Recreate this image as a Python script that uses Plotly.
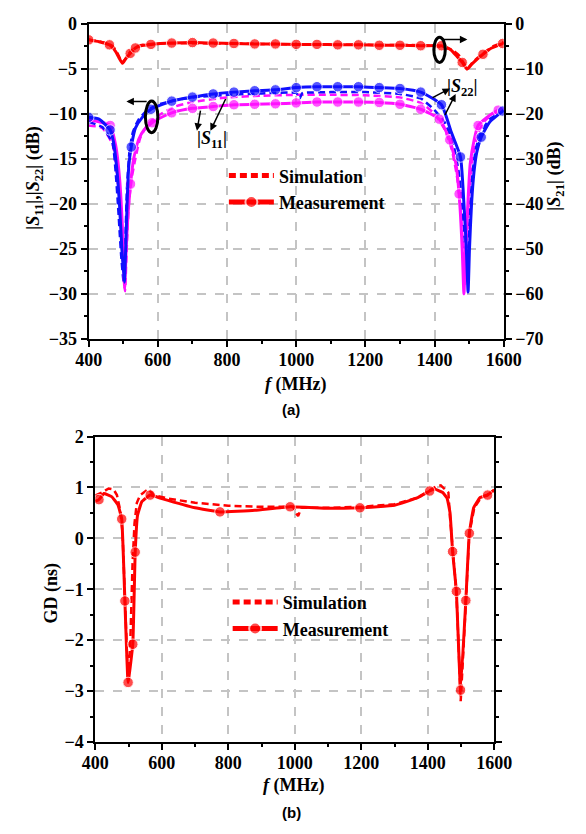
import plotly.graph_objects as go

# ---------------- (a) S-parameters ----------------
# |S21| measured (right axis, dB)
s21_f = [400, 430, 460, 478, 490, 498, 507, 520, 535, 550, 580, 640, 700, 760, 820, 880, 940, 1000, 1060,
         1120, 1180, 1240, 1300, 1360, 1420, 1445, 1465, 1480, 1494, 1510, 1540, 1565, 1597, 1600]
s21_meas = [-3.6, -4.0, -4.7, -6.2, -7.9, -8.8, -7.8, -6.6, -5.4, -4.9, -4.6, -4.3, -4.2, -4.3, -4.4, -4.5, -4.5,
            -4.6, -4.6, -4.7, -4.7, -4.8, -4.8, -4.9, -4.9, -5.7, -7.3, -8.6, -10.1, -8.8, -6.8, -5.4, -4.4, -4.2]
s21_mk = [1, 0, 1, 0, 0, 0, 0, 1, 1, 0, 1, 1, 1, 1, 1, 1, 1, 1, 1, 1, 1, 1, 1, 1, 1, 0, 0, 1, 0, 0, 1, 0, 1, 0]
# |S21| simulated
s21_sim_f = [400, 440, 470, 485, 497, 510, 525, 550, 600, 800, 1000, 1200, 1400, 1450, 1470, 1485, 1495, 1510,
             1540, 1570, 1600]
s21_sim = [-3.5, -4.1, -5.0, -6.8, -8.6, -7.4, -5.8, -4.8, -4.4, -4.4, -4.6, -4.7, -4.9, -5.8, -7.0, -8.8, -10.0,
           -8.6, -6.6, -5.0, -4.1]

# |S22| measured (blue)
s22_f = [400, 430, 462, 472, 481, 489, 496, 503, 507, 511, 516, 523, 535, 555, 580, 640, 700, 760, 820, 880, 940,
         1000, 1060, 1120, 1180, 1240, 1300, 1360, 1420, 1448, 1475, 1485, 1492, 1497, 1501, 1507, 1514, 1522,
         1535, 1560, 1597, 1600]
s22_meas = [-10.4, -10.6, -11.8, -13.2, -16.0, -20.0, -25.0, -28.7, -25.0, -20.0, -15.8, -13.7, -11.6, -10.4,
            -9.5, -8.6, -8.15, -7.8, -7.6, -7.45, -7.35, -7.1, -7.0, -7.0, -7.0, -7.1, -7.2, -7.6, -9.0, -12.0,
            -14.8, -20.0, -25.0, -29.8, -25.0, -20.0, -16.5, -14.3, -12.6, -10.9, -9.7, -9.6]
s22_mk = [1, 0, 1, 0, 0, 0, 0, 0, 0, 0, 0, 1, 0, 0, 1, 1, 1, 1, 1, 1, 1, 1, 1, 1, 1, 1, 1, 1, 1, 0, 1, 0, 0, 0,
          0, 0, 0, 0, 1, 0, 1, 0]
# |S22| simulated
s22_sim_f = [400, 440, 469, 478, 485, 494, 501, 506, 511, 518, 528, 545, 570, 600, 650, 700, 800, 900, 1000,
             1010, 1018, 1030, 1100, 1200, 1300, 1360, 1400, 1430, 1455, 1470, 1480, 1487, 1493, 1498, 1503, 1510,
             1520, 1535, 1560, 1600]
s22_sim = [-10.9, -11.5, -13.3, -16.5, -20.3, -25.8, -28.6, -24.0, -18.0, -14.2, -12.0, -10.6, -9.6, -9.0, -8.5,
           -8.2, -7.9, -7.75, -7.7, -8.3, -7.7, -7.65, -7.6, -7.6, -7.8, -8.3, -9.6, -11.0, -13.5, -16.5, -20.0,
           -24.0, -28.5, -25.0, -20.5, -16.5, -13.8, -12.0, -10.6, -9.7]

# |S11| measured (magenta)
s11_f = [400, 430, 462, 478, 490, 498, 504, 509, 514, 521, 530, 545, 560, 583, 605, 640, 700, 760, 820, 880,
         940, 1000, 1060, 1120, 1180, 1240, 1300, 1360, 1414, 1444, 1462, 1471, 1480, 1485, 1490, 1497, 1503,
         1515, 1526, 1545, 1566, 1584, 1600]
s11_meas = [-10.7, -10.9, -11.3, -13.5, -17.5, -23.0, -29.3, -24.4, -21.0, -17.8, -15.0, -12.8, -11.8, -11.0,
            -10.5, -9.9, -9.4, -9.2, -9.0, -8.95, -8.9, -8.8, -8.7, -8.7, -8.7, -8.75, -8.95, -9.5, -10.6, -12.9,
            -15.6, -18.9, -25.0, -30.0, -24.7, -19.5, -15.6, -12.8, -11.3, -10.6, -10.0, -9.6, -9.4]
s11_mk = [0, 0, 1, 0, 0, 0, 0, 0, 0, 1, 0, 0, 0, 1, 0, 1, 1, 1, 1, 1, 1, 1, 1, 1, 1, 1, 1, 1, 1, 1, 0, 1, 0, 0,
          0, 0, 0, 0, 1, 0, 0, 1, 0]
# |S11| simulated
s11_sim_f = [400, 440, 470, 485, 495, 500, 505, 510, 516, 525, 535, 548, 565, 585, 610, 650, 700, 800, 900, 1000,
             1100, 1200, 1300, 1360, 1400, 1430, 1450, 1465, 1475, 1483, 1488, 1493, 1500, 1510, 1525, 1545,
             1570, 1600]
s11_sim = [-11.3, -11.6, -13.5, -18.0, -24.0, -27.5, -29.7, -25.0, -20.0, -17.0, -15.0, -12.8, -11.5, -10.7,
           -10.0, -9.2, -8.7, -8.2, -8.0, -7.9, -7.9, -7.95, -8.2, -8.8, -10.0, -11.8, -14.0, -17.0, -20.5, -25.0,
           -29.0, -25.0, -19.0, -15.0, -12.2, -10.8, -10.0, -9.5]

# ---------------- (b) group delay ----------------
gd_f = [400, 411, 426, 449, 468, 479.5, 489, 498.6, 512.8, 520, 527, 540, 565, 600, 700, 775, 880, 986, 1100,
        1196, 1300, 1370, 1405.7, 1420, 1445, 1458, 1467, 1474.7, 1486, 1498.6, 1514.5, 1525, 1538, 1557, 1580,
        1600]
gd_meas = [0.73, 0.76, 0.88, 0.82, 0.66, 0.38, -1.23, -2.83, -2.08, -0.27, 0.45, 0.72, 0.85, 0.78, 0.6, 0.52,
           0.55, 0.62, 0.59, 0.6, 0.65, 0.8, 0.93, 0.97, 0.9, 0.79, 0.5, -0.26, -1.04, -2.98, -1.22, 0.1, 0.6,
           0.8, 0.85, 0.95]
gd_mk = [0, 1, 0, 0, 0, 1, 1, 1, 1, 1, 0, 0, 1, 0, 0, 1, 0, 1, 0, 1, 0, 0, 1, 0, 0, 0, 0, 1, 1, 1, 1, 1, 0, 0,
         1, 0]
gd_sim_f = [400, 420, 440, 455, 465, 475, 482, 490, 498, 505, 512, 518, 525, 535, 548, 560, 575, 620, 700, 800,
            900, 995, 1003, 1010, 1020, 1100, 1200, 1300, 1370, 1410, 1425, 1439, 1450, 1462, 1467, 1475, 1486,
            1492, 1499, 1508, 1515, 1525, 1540, 1560, 1580, 1600]
gd_sim = [0.84, 0.9, 0.98, 0.96, 0.85, 0.55, 0.1, -1.2, -2.75, -2.1, -0.5, 0.3, 0.7, 0.85, 0.92, 0.97, 0.85,
          0.78, 0.7, 0.64, 0.62, 0.62, 0.5, 0.44, 0.6, 0.6, 0.62, 0.67, 0.8, 0.97, 1.02, 1.04, 0.98, 0.9, 0.4,
          -0.25, -1.05, -2.0, -3.2, -2.1, -1.2, 0.1, 0.6, 0.8, 0.86, 0.95]

RED, BLUE, MAG = "#ff0000", "#1010ff", "#ff10ff"
SERIF = "Liberation Serif"
DASH = "7px,4px"
MS = 10.5


def msizes(flags):
    return [MS if k else 0 for k in flags]


fig = go.Figure()

# top: S11 / S22 (left axis)
fig.add_trace(go.Scatter(x=s11_sim_f, y=s11_sim, mode="lines", line=dict(color=MAG, width=2.5, dash=DASH,
                                                                          shape="spline", smoothing=0.5),
                         showlegend=False, xaxis="x", yaxis="y"))
fig.add_trace(go.Scatter(x=s22_sim_f, y=s22_sim, mode="lines", line=dict(color=BLUE, width=2.5, dash=DASH,
                                                                          shape="spline", smoothing=0.5),
                         showlegend=False, xaxis="x", yaxis="y"))
fig.add_trace(go.Scatter(x=s11_f, y=s11_meas, mode="lines+markers",
                         line=dict(color=MAG, width=3, shape="spline", smoothing=0.5),
                         marker=dict(color=MAG, size=msizes(s11_mk)), showlegend=False, xaxis="x", yaxis="y"))
fig.add_trace(go.Scatter(x=s22_f, y=s22_meas, mode="lines+markers",
                         line=dict(color=BLUE, width=3, shape="spline", smoothing=0.5),
                         marker=dict(color=BLUE, size=msizes(s22_mk)), showlegend=False, xaxis="x", yaxis="y"))
# S21 (right axis)
fig.add_trace(go.Scatter(x=s21_sim_f, y=s21_sim, mode="lines", name="Simulation",
                         line=dict(color=RED, width=2.5, dash=DASH, shape="spline", smoothing=0.5),
                         legend="legend", xaxis="x", yaxis="y2"))
fig.add_trace(go.Scatter(x=s21_f, y=s21_meas, mode="lines+markers", name="Measurement",
                         line=dict(color=RED, width=3, shape="spline", smoothing=0.5),
                         marker=dict(color=RED, size=msizes(s21_mk)), legend="legend", xaxis="x", yaxis="y2"))

# bottom: GD
fig.add_trace(go.Scatter(x=gd_sim_f, y=gd_sim, mode="lines", name="Simulation",
                         line=dict(color=RED, width=2.5, dash=DASH), legend="legend2", xaxis="x2", yaxis="y3"))
fig.add_trace(go.Scatter(x=gd_f, y=gd_meas, mode="lines+markers", name="Measurement",
                         line=dict(color=RED, width=3, shape="spline", smoothing=0.3),
                         marker=dict(color=RED, size=msizes(gd_mk)), legend="legend2", xaxis="x2", yaxis="y3"))

tickfont = dict(family=SERIF, size=18, color="black", weight="bold")
common = dict(showline=True, linecolor="black", linewidth=2, ticks="outside", ticklen=6, tickwidth=2,
              tickcolor="black", tickfont=tickfont, zeroline=False, showgrid=True, gridcolor="#c4c4c4",
              gridwidth=1.5, griddash="dash")
minor_t = dict(ticklen=3, tickwidth=2, tickcolor="black", ticks="outside")

TOP_X = [79 / 586, 518 / 586]
TOP_Y = [(834 - 337) / 834, (834 - 14) / 834]
BOT_X = [86 / 586, 508 / 586]
BOT_Y = [(834 - 750) / 834, (834 - 437) / 834]

legfont = dict(family=SERIF, size=18, color="black", weight="bold")
fig.update_layout(
    width=586, height=834, margin=dict(l=0, r=0, t=0, b=0),
    paper_bgcolor="white", plot_bgcolor="white",
    xaxis=dict(domain=TOP_X, anchor="y", range=[400, 1600], dtick=200, mirror=True, ticklabelstandoff=-3,
               minor=dict(dtick=100, **minor_t), **common),
    yaxis=dict(domain=TOP_Y, anchor="x", range=[-35, 0], dtick=5,
               minor=dict(dtick=2.5, **minor_t), **common),
    yaxis2=dict(overlaying="y", side="right", anchor="x", range=[-70, 0], dtick=10,
                minor=dict(dtick=5, **minor_t), **{**common, "showgrid": False}),
    xaxis2=dict(domain=BOT_X, anchor="y3", range=[400, 1600], dtick=200, mirror=True, ticklabelstandoff=-3,
                minor=dict(dtick=100, **minor_t), **common),
    yaxis3=dict(domain=BOT_Y, anchor="x2", range=[-4, 2], dtick=1, mirror="ticks",
                minor=dict(dtick=0.5, **minor_t), **common),
    legend=dict(x=222 / 586, y=1 - 151 / 834, xanchor="left", yanchor="top", bgcolor="rgba(0,0,0,0)",
                font=legfont, itemsizing="constant", itemwidth=45, tracegroupgap=0),
    legend2=dict(x=226 / 586, y=1 - 588 / 834, xanchor="left", yanchor="top", bgcolor="rgba(0,0,0,0)",
                 font=legfont, itemsizing="constant", itemwidth=45, tracegroupgap=0),
)

tfont = dict(family=SERIF, size=18, color="black", weight="bold")
ctr = dict(xref="paper", yref="paper", showarrow=False, xanchor="center", yanchor="middle")
ann = []
# axis titles
ann.append(dict(text="|<i>S</i><sub>11</sub>|,|<i>S</i><sub>22</sub>| (dB)", x=22 / 586, y=1 - 172 / 834,
                textangle=-90, font=tfont, **ctr))
ann.append(dict(text="|<i>S</i><sub>21</sub>| (dB)", x=573 / 586, y=1 - 170 / 834,
                textangle=-90, font=tfont, **ctr))
ann.append(dict(text="<i>f</i> (MHz)", x=298 / 586, y=1 - 384 / 834, font=tfont, **ctr))
ann.append(dict(text="GD (ns)", x=40 / 586, y=1 - 597 / 834, textangle=-90, font=tfont, **ctr))
ann.append(dict(text="<i>f</i> (MHz)", x=296 / 586, y=1 - 795 / 834, font=tfont, **ctr))
capfont = dict(family="Liberation Sans", size=15, color="black", weight="bold")
ann.append(dict(text="(a)", x=293 / 586, y=1 - 409 / 834, font=capfont, **ctr))
ann.append(dict(text="(b)", x=293 / 586, y=1 - 822 / 834, font=capfont, **ctr))
# curve labels
ann.append(dict(text="|<i>S</i><sub>11</sub>|", x=756, y=-12.9, xref="x", yref="y", showarrow=False,
                xanchor="center", yanchor="middle", font=tfont))
ann.append(dict(text="|<i>S</i><sub>22</sub>|", x=1482, y=-7.1, xref="x", yref="y", showarrow=False,
                xanchor="center", yanchor="middle", font=tfont))
arrow = dict(xref="x", yref="y", axref="x", ayref="y", text="", showarrow=True, arrowhead=2, arrowsize=1,
             arrowwidth=1.5, arrowcolor="black")
ann.append(dict(x=752, y=-11.9, ax=798, ay=-8.2, **arrow))
ann.append(dict(x=713, y=-11.9, ax=724, ay=-9.5, **arrow))
ann.append(dict(x=1445, y=-7.2, ax=1390, ay=-8.3, **arrow))
ann.append(dict(x=1461, y=-7.8, ax=1428, ay=-10.3, **arrow))
# axis-indicating arrows
ann.append(dict(x=509, y=-8.64, ax=572, ay=-8.64, **arrow))
ann.append(dict(x=1495, y=-1.75, ax=1420, ay=-1.75, **arrow))
fig.update_layout(annotations=ann)

fig.add_shape(type="circle", xref="x", yref="y", x0=564, x1=600, y0=-12.1, y1=-8.6,
              line=dict(color="black", width=3))
fig.add_shape(type="circle", xref="x", yref="y", x0=1398, x1=1431, y0=-4.3, y1=-1.5,
              line=dict(color="black", width=3))

fig.write_html("out.html")
